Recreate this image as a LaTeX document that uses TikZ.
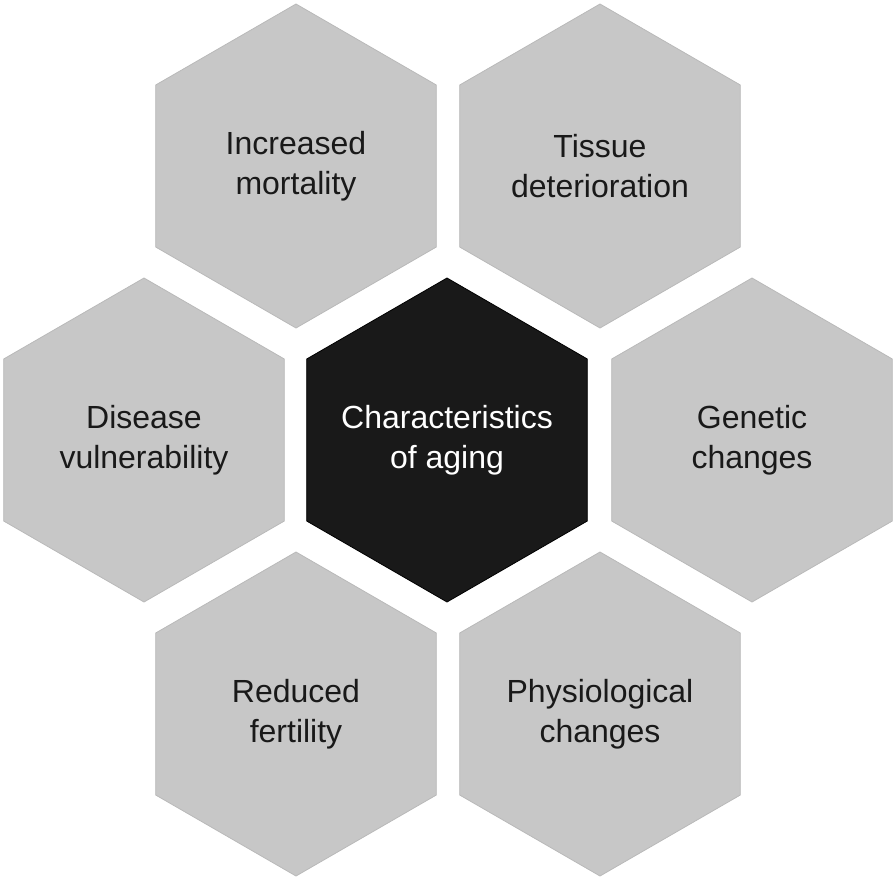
\documentclass[tikz,border=0pt]{standalone}
\usepackage{fontspec}
\setmainfont{Liberation Sans}
\usetikzlibrary{shapes.geometric}
\begin{document}
\begin{tikzpicture}[x=1pt,y=-1pt,
  hexbox/.style={regular polygon, regular polygon sides=6, shape border rotate=30,
    minimum size=324pt, inner sep=0pt, draw=gray!55, line width=0.8pt, fill=black!22},
  centerbox/.style={hexbox, fill=black!90, draw=black},
  hextext/.style={align=center, font=\fontsize{32}{40}\selectfont, text=black!90},
  centertext/.style={hextext, text=white}]
\useasboundingbox (0,0) rectangle (896,879);
\node[hexbox] (tl) at (296,166) {};
\node[hexbox] (tr) at (600,166) {};
\node[hexbox] (l) at (144,440) {};
\node[centerbox] (c) at (447,440) {};
\node[hexbox] (r) at (752,440) {};
\node[hexbox] (bl) at (296,714) {};
\node[hexbox] (br) at (600,714) {};
\node[hextext] (ttl) at (tl.center) {Increased\\mortality};
\node[hextext] (ttr) at (tr.center) {Tissue\\deterioration};
\node[hextext] (tlft) at (l.center) {Disease\\vulnerability};
\node[centertext] (tc) at (c.center) {Characteristics\\of aging};
\node[hextext] (tr2) at (r.center) {Genetic\\changes};
\node[hextext] (tbl) at (bl.center) {Reduced\\fertility};
\node[hextext] (tbr) at (br.center) {Physiological\\changes};
\end{tikzpicture}
\end{document}
